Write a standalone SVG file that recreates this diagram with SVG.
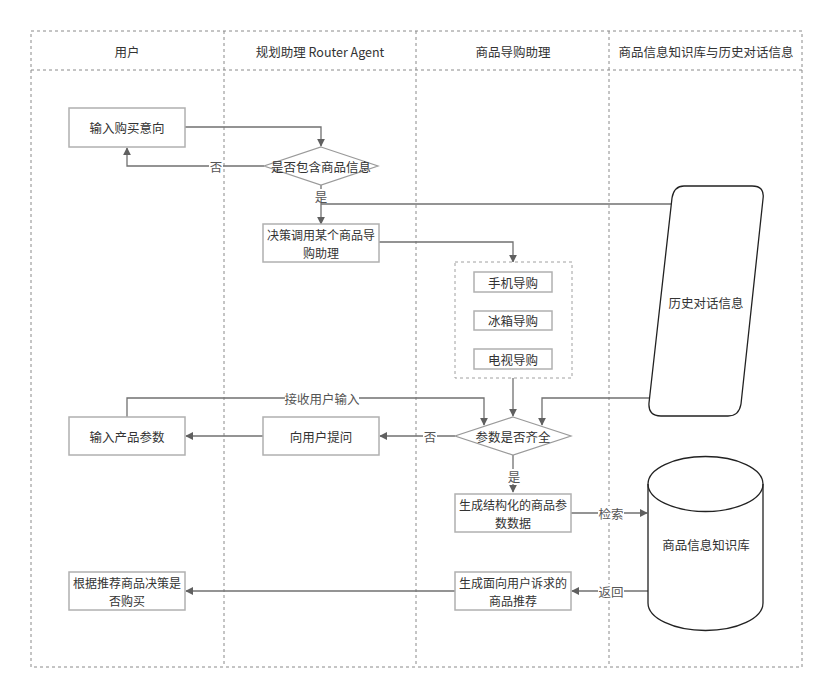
<svg xmlns="http://www.w3.org/2000/svg" width="835" height="700" viewBox="0 0 835 700">
<defs>
<style>
text{font-family:"Noto Sans CJK SC","Noto Sans",sans-serif;font-size:12.5px;fill:#333;text-anchor:middle;dominant-baseline:central}
.two{font-size:12px}
.lane{fill:none;stroke:#8a8a8a;stroke-width:1;stroke-dasharray:3,3}
.box{fill:#fff;stroke:#b0b0b0;stroke-width:1.5}
.dia{fill:#fff;stroke:#9a9a9a;stroke-width:1.2}
.edge{fill:none;stroke:#707070;stroke-width:1.3}
.lbl{fill:#fff}
.el{fill:#555}
</style>
<marker id="ah" viewBox="0 0 10 10" refX="9" refY="5" markerWidth="8" markerHeight="8" markerUnits="userSpaceOnUse" orient="auto"><path d="M0,0 L10,5 L0,10 z" fill="#606060"/></marker>
</defs>
<rect width="835" height="700" fill="#fff"/>
<g id="lanes">
<rect class="lane" x="31" y="31" width="771" height="636"/>
<line class="lane" x1="31" y1="70" x2="802" y2="70"/>
<line class="lane" x1="224" y1="31" x2="224" y2="667"/>
<line class="lane" x1="416" y1="31" x2="416" y2="667"/>
<line class="lane" x1="609" y1="31" x2="609" y2="667"/>
<text x="127" y="51">用户</text>
<text x="320" y="51">规划助理 Router Agent</text>
<text x="513" y="51">商品导购助理</text>
<text x="706" y="51">商品信息知识库与历史对话信息</text>
</g>
<g id="connectors">
<polyline class="edge" points="185,127 321,127 321,146" marker-end="url(#ah)"/>
<polyline class="edge" points="264,166 127,166 127,148" marker-end="url(#ah)"/>
<rect class="lbl" x="209" y="158" width="14" height="16"/><text class="el" x="216" y="166">否</text>
<polyline class="edge" points="321,185 321,224" marker-end="url(#ah)"/>
<polyline class="edge" points="321,204 672,204"/>
<rect class="lbl" x="313" y="189" width="16" height="14"/><text class="el" x="321" y="196">是</text>
<polyline class="edge" points="379,242 513,242 513,262" marker-end="url(#ah)"/>
<polyline class="edge" points="513,378 513,416" marker-end="url(#ah)"/>
<polyline class="edge" points="651,398 542,398 542,425" marker-end="url(#ah)"/>
<polyline class="edge" points="127,417 127,398 484,398 484,425" marker-end="url(#ah)"/>
<rect class="lbl" x="285" y="391" width="74" height="15"/><text class="el" x="322" y="398">接收用户输入</text>
<polyline class="edge" points="455,436 380,436" marker-end="url(#ah)"/>
<rect class="lbl" x="423" y="428" width="14" height="16"/><text class="el" x="430" y="436">否</text>
<polyline class="edge" points="263,436 186,436" marker-end="url(#ah)"/>
<polyline class="edge" points="513,455 513,492" marker-end="url(#ah)"/>
<rect class="lbl" x="506" y="469" width="15" height="15"/><text class="el" x="514" y="476">是</text>
<polyline class="edge" points="571,513 647,513" marker-end="url(#ah)"/>
<rect class="lbl" x="598" y="506" width="26" height="15"/><text class="el" x="611" y="513">检索</text>
<polyline class="edge" points="648,591 572,591" marker-end="url(#ah)"/>
<rect class="lbl" x="598" y="584" width="26" height="15"/><text class="el" x="611" y="591">返回</text>
<polyline class="edge" points="455,591 186,591" marker-end="url(#ah)"/>
</g>
<g id="n-intent"><rect class="box" x="69" y="108" width="116" height="39"/><text x="127" y="127.5">输入购买意向</text></g>
<g id="n-check-product"><polygon class="dia" points="321,147 378,166 321,185 264,166"/><text x="321" y="166">是否包含商品信息</text></g>
<g id="n-dispatch"><rect class="box" x="263" y="224" width="116" height="38"/><text class="two"><tspan x="321" y="234">决策调用某个商品导</tspan><tspan x="321" y="252">购助理</tspan></text></g>
<g id="n-group"><rect x="455" y="262" width="117" height="116" fill="#fff" stroke="#a0a0a0" stroke-width="1" stroke-dasharray="3,3"/>
<g id="n-phone"><rect class="box" x="474" y="272" width="78" height="20"/><text x="513" y="282">手机导购</text></g>
<g id="n-fridge"><rect class="box" x="474" y="311" width="78" height="19"/><text x="513" y="320.5">冰箱导购</text></g>
<g id="n-tv"><rect class="box" x="474" y="349" width="78" height="20"/><text x="513" y="359">电视导购</text></g>
</g>
<g id="n-history"><path d="M684,186 L752,186 Q765,186 763,199 L741,404 Q739,416 728,416 L661,416 Q648,416 649,403 L672,198 Q674,186 684,186 Z" fill="#fff" stroke="#222" stroke-width="1.3"/><text x="706" y="302">历史对话信息</text></g>
<g id="n-check-params"><polygon class="dia" points="513,417 571,436 513,455 455,436"/><text x="513" y="436">参数是否齐全</text></g>
<g id="n-ask"><rect class="box" x="263" y="417" width="116" height="38"/><text x="321" y="436">向用户提问</text></g>
<g id="n-input-params"><rect class="box" x="69" y="417" width="116" height="38"/><text x="127" y="436">输入产品参数</text></g>
<g id="n-structured"><rect class="box" x="455" y="494" width="116" height="38"/><text class="two"><tspan x="513" y="504">生成结构化的商品参</tspan><tspan x="513" y="522">数数据</tspan></text></g>
<g id="n-kb"><path d="M648,484 A57.5,27.5 0 0 1 763,484 L763,603 A57.5,27.5 0 0 1 648,603 Z" fill="#fff" stroke="#222" stroke-width="1.3"/><path d="M648,484 A57.5,27.5 0 0 0 763,484" fill="none" stroke="#222" stroke-width="1.3"/><text x="706" y="544">商品信息知识库</text></g>
<g id="n-recommend"><rect class="box" x="455" y="572" width="116" height="38"/><text class="two"><tspan x="513" y="582">生成面向用户诉求的</tspan><tspan x="513" y="600">商品推荐</tspan></text></g>
<g id="n-decide"><rect class="box" x="69" y="572" width="116" height="38"/><text class="two"><tspan x="127" y="582">根据推荐商品决策是</tspan><tspan x="127" y="600">否购买</tspan></text></g>
</svg>
